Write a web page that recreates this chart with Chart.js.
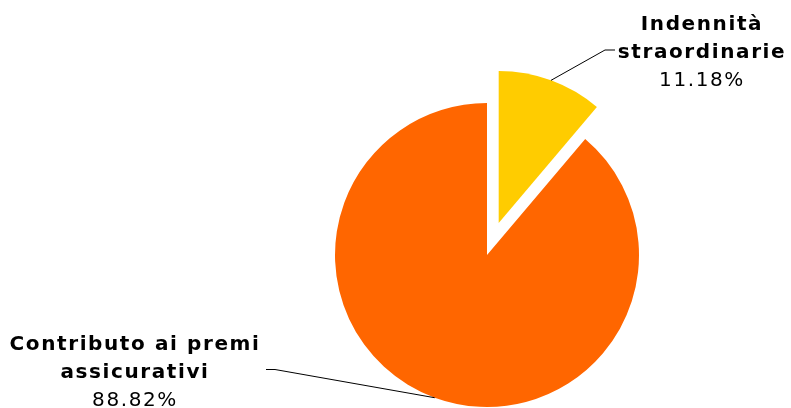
<!DOCTYPE html>
<html><head><meta charset="utf-8">
<script src="https://cdn.jsdelivr.net/npm/chart.js@4"></script>
<style>html,body{margin:0;padding:0;background:#fff;overflow:hidden}canvas{display:block}</style>
</head><body>
<canvas id="c" width="791" height="408"></canvas>
<script>
const categories = [['Indennità', 'straordinarie'], ['Contributo ai premi', 'assicurativi']];
const values = [11.18, 88.82];
const sliceColors = ['#FFCC00', '#FF6600'];
const explode = [34, 0];

const labelLayout = [
  { cx: 702, base: 30, elbow: [605, 50], end: [615, 50] },
  { cx: 135, base: 350, elbow: [275, 369.5], end: [266, 369.5] }
];
const lineH = 28;

const explodePlugin = {
  id: 'explodeLabels',
  beforeDatasetDraw(chart, args) {
    const meta = chart.getDatasetMeta(args.index);
    meta.data.forEach((arc, i) => {
      const d = explode[i] || 0;
      if (!d || arc._exploded) return;
      const orig = arc.draw;
      arc.draw = function (ctx, area) {
        const h = (this.startAngle + this.endAngle) / 2;
        ctx.save();
        ctx.translate(Math.cos(h) * d, Math.sin(h) * d);
        orig.call(this, ctx, area);
        ctx.restore();
      };
      arc._exploded = true;
    });
  },
  afterDatasetsDraw(chart) {
    const ctx = chart.ctx;
    const meta = chart.getDatasetMeta(0);
    meta.data.forEach((arc, i) => {
      const d = explode[i] || 0;
      const h = (arc.startAngle + arc.endAngle) / 2;
      const cx = arc.x + Math.cos(h) * d, cy = arc.y + Math.sin(h) * d;
      const sx = cx + Math.cos(h) * arc.outerRadius, sy = cy + Math.sin(h) * arc.outerRadius;
      const L = labelLayout[i];
      ctx.save();
      ctx.strokeStyle = '#000';
      ctx.lineWidth = 1;
      ctx.beginPath();
      ctx.moveTo(sx, sy);
      ctx.lineTo(L.elbow[0], L.elbow[1]);
      ctx.lineTo(L.end[0], L.end[1]);
      ctx.stroke();
      ctx.fillStyle = '#000';
      ctx.textAlign = 'center';
      ctx.textBaseline = 'alphabetic';
      ctx.letterSpacing = '1.6px';
      const lines = categories[i];
      ctx.font = 'bold 20px "DejaVu Sans"';
      lines.forEach((t, k) => ctx.fillText(t, L.cx, L.base + k * lineH));
      ctx.font = '20px "DejaVu Sans"';
      ctx.fillText(values[i].toFixed(2) + '%', L.cx, L.base + lines.length * lineH);
      ctx.restore();
    });
  }
};

new Chart(document.getElementById('c'), {
  type: 'pie',
  data: {
    labels: categories,
    datasets: [{
      data: values,
      backgroundColor: sliceColors,
      borderWidth: 0,
      clip: false
    }]
  },
  options: {
    responsive: false,
    animation: false,
    events: [],
    radius: 152,
    layout: { padding: { left: 183, right: 0, top: 102, bottom: 0 } },
    plugins: { legend: { display: false }, tooltip: { enabled: false } }
  },
  plugins: [explodePlugin]
});
</script>
</body></html>
